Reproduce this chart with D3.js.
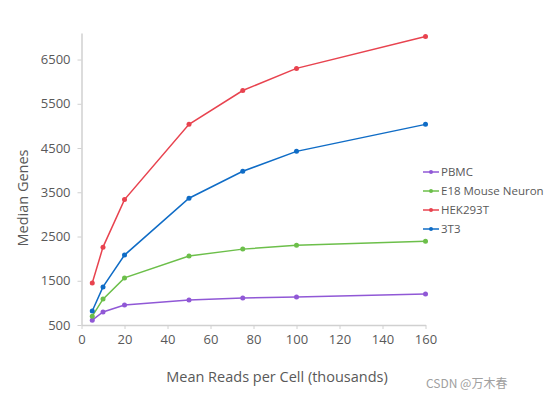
<!DOCTYPE html>
<html><head><meta charset="utf-8">
<script src="https://cdn.jsdelivr.net/npm/d3@7"></script>
<style>body{margin:0;background:#fff;}svg{display:block;font-family:"Open Sans","Noto Sans",sans-serif;}</style>
</head><body><svg id="c" width="554" height="402"></svg>
<script>
const xValues = [5, 10, 20, 50, 75, 100, 160];
const seriesNames = ["PBMC", "E18 Mouse Neuron", "HEK293T", "3T3"];
const seriesColors = ["#9058d6", "#6cbf4a", "#e8434f", "#0f6cc6"];
const pbmc = [610, 795, 950, 1065, 1110, 1135, 1200];
const e18 = [700, 1085, 1565, 2060, 2215, 2300, 2395];
const hek = [1450, 2260, 3335, 5035, 5800, 6300, 7020];
const t3 = [815, 1360, 2080, 3365, 3975, 4425, 5035];
const seriesValues = [pbmc, e18, hek, t3];
const xTicks = [0, 20, 40, 60, 80, 100, 120, 140, 160];
const yTicks = [500, 1500, 2500, 3500, 4500, 5500, 6500];

const svg = d3.select("#c");
const x = d3.scaleLinear().domain([0, 160]).range([81.5, 425.5]);
const y = d3.scaleLinear().domain([500, 7100]).range([325, 33]);
const textCol = "#595959", axisCol = "#d0d0d0";

const gx = svg.append("g").attr("transform", "translate(0,325)")
  .call(d3.axisBottom(x).tickValues(xTicks).tickFormat(d3.format("d")).tickSize(4).tickPadding(6).tickSizeOuter(0));
const gy = svg.append("g").attr("transform", "translate(81.5,0)")
  .call(d3.axisLeft(y).tickValues(yTicks).tickFormat(d3.format("d")).tickSize(4).tickPadding(7).tickSizeOuter(0));
[gx, gy].forEach(g => {
  g.select(".domain").attr("stroke", axisCol).attr("stroke-width", 1.5);
  g.selectAll(".tick line").attr("stroke", axisCol);
  g.selectAll(".tick text").attr("fill", textCol).style("font-size", "13px").style("font-family", "'Open Sans',sans-serif");
});

svg.append("text").attr("x", 277).attr("y", 382).attr("text-anchor", "middle")
  .attr("fill", textCol).style("font-size", "14.5px").text("Mean Reads per Cell (thousands)");
svg.append("text").attr("transform", "translate(28,198) rotate(-90)").attr("text-anchor", "middle")
  .attr("fill", textCol).style("font-size", "14.5px").text("Median Genes");

const line = d3.line().x((d, i) => x(xValues[i])).y(d => y(d));
seriesValues.forEach((vals, si) => {
  const g = svg.append("g");
  g.append("path").datum(vals).attr("d", line).attr("fill", "none")
    .attr("stroke", seriesColors[si]).attr("stroke-width", 1.5);
  g.selectAll("circle").data(vals).join("circle")
    .attr("cx", (d, i) => x(xValues[i])).attr("cy", d => y(d)).attr("r", 2.5)
    .attr("fill", seriesColors[si]);
});

const lg = svg.append("g");
seriesNames.forEach((n, i) => {
  const yy = 172 + i * 19;
  lg.append("line").attr("x1", 423).attr("x2", 439).attr("y1", yy).attr("y2", yy)
    .attr("stroke", seriesColors[i]).attr("stroke-width", 1.5);
  lg.append("circle").attr("cx", 431).attr("cy", yy).attr("r", 2).attr("fill", seriesColors[i]);
  lg.append("text").attr("x", 441).attr("y", yy + 4).attr("fill", textCol)
    .style("font-size", "11.5px").text(n);
});

svg.append("text").attr("x", 426).attr("y", 388).attr("fill", "#a0a0a0")
  .style("font-size", "12px").style("font-family", "'Noto Sans CJK SC','Noto Sans',sans-serif")
  .text("CSDN @万木春");
</script></body></html>
